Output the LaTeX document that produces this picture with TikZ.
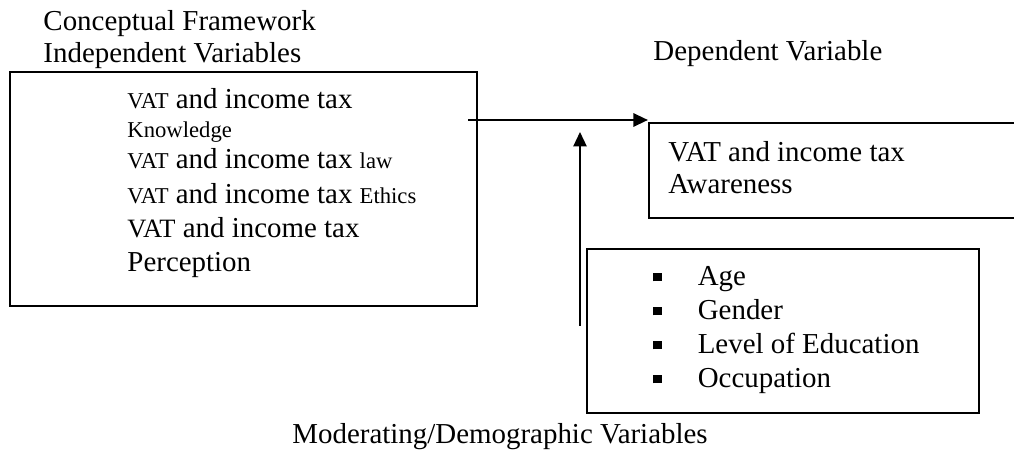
\documentclass[tikz,border=0pt]{standalone}
\usepackage{fontspec}
\setmainfont{Liberation Serif}
\usetikzlibrary{arrows.meta, fit, positioning}

\newcommand{\smtext}[1]{{\fontsize{9.4}{11}\selectfont #1}}
\newcommand{\sqitem}{\rule[1.7pt]{3.4pt}{3.4pt}\hspace{15pt}}

\begin{document}
\begin{tikzpicture}[
	x=0.415pt, y=-0.415pt,
	box/.style = {draw, line width=0.9pt, inner sep=0pt},
	arrow/.style = {-{Triangle[length=6pt, width=5.5pt]}, line width=0.8pt},
	textblock/.style = {inner sep=0pt, align=left, font=\fontsize{12}{#1}\selectfont},
	textblock/.default = 13.3pt
]
\useasboundingbox (0,0) rectangle (1014,457);

% boxes
\node[box, fit={(10,72) (477,306)}] (indep) {};
\node[box, fit={(649,123) (1030,218)}] (aware) {};
\node[box, fit={(587,249) (979,413)}] (demo) {};

\begin{scope}[every node/.style = {textblock}]
\node[anchor=north west] (title) at (43,10.3) {Conceptual Framework\\Independent Variables};
\node[anchor=base west] (dep title) at (653,61) {Dependent Variable};
\node[anchor=base west] (demo title) at (292,443) {Moderating/Demographic Variables};
\end{scope}

\node[textblock=14.1pt, anchor=north west] (indep text) at (127,88.3) {%
	\smtext{VAT} and income tax\\[-2.1pt]
	\smtext{Knowledge}\\[-1.2pt]
	\smtext{VAT} and income tax \smtext{law}\\[0.4pt]
	\smtext{VAT} and income tax \smtext{Ethics}\\
	{\fontsize{11}{13}\selectfont VAT} and income tax\\
	Perception};
\node[textblock, anchor=north west] (aware text) at (668,141.3) {VAT and income tax\\Awareness};
\node[textblock=14.1pt, anchor=north west] (demo text) at (653,266) {%
	\sqitem Age\\
	\sqitem Gender\\
	\sqitem Level of Education\\
	\sqitem Occupation};

% connectors
\coordinate (hstart) at (468,120);
\coordinate (vstart) at (580,326);
\coordinate (vend) at (580,132);
\draw[arrow] (hstart) -- (hstart -| aware.west);
\draw[arrow] (vstart) -- (vend);

\end{tikzpicture}
\end{document}
